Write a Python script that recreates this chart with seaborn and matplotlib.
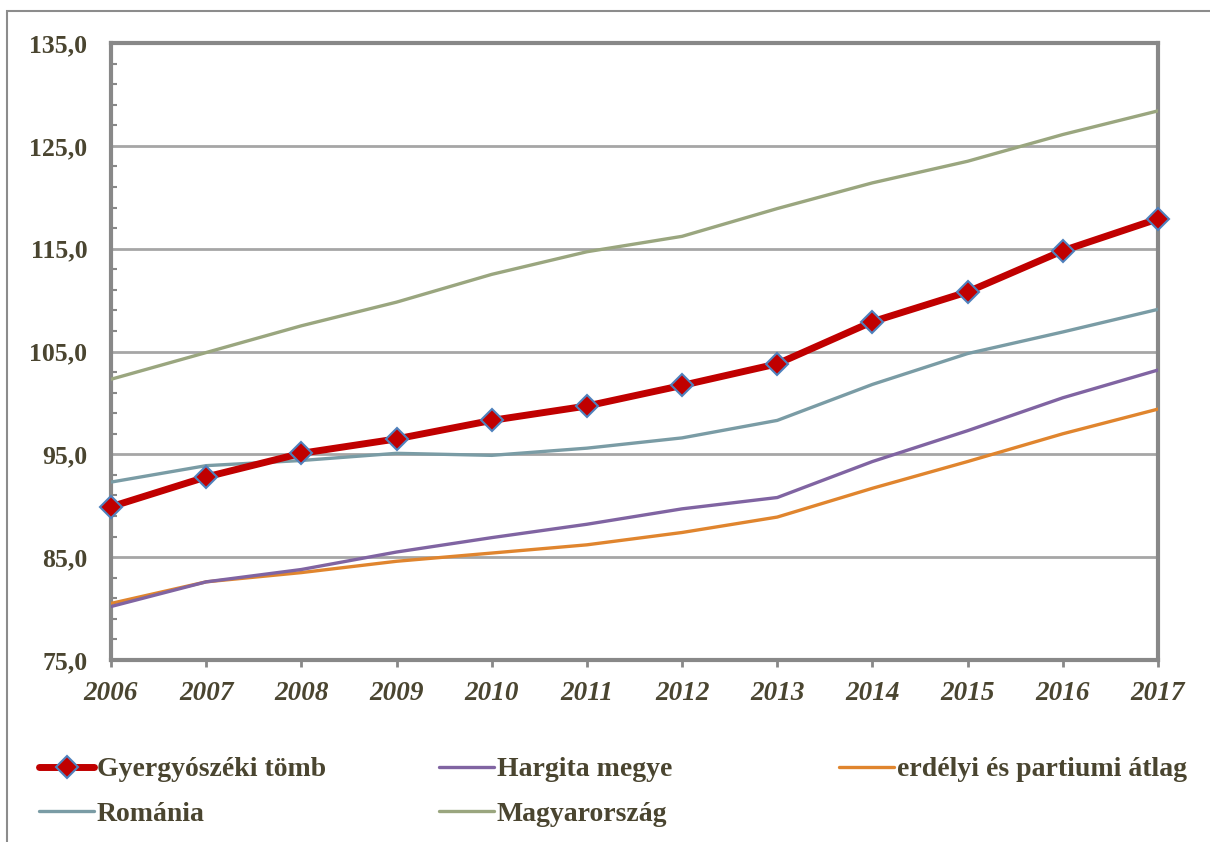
import numpy as np
import pandas as pd
import matplotlib
matplotlib.use("Agg")
import matplotlib.pyplot as plt
import seaborn as sns
from matplotlib.patches import Rectangle
from matplotlib.ticker import FixedLocator

# adatok (leolvasva az ábráról)
years = [2006, 2007, 2008, 2009, 2010, 2011, 2012, 2013, 2014, 2015, 2016, 2017]
gyergyo = [89.9, 92.8, 95.1, 96.5, 98.3, 99.7, 101.7, 103.8, 107.9, 110.8, 114.8, 117.9]
hargita = [80.2, 82.6, 83.8, 85.5, 86.9, 88.2, 89.7, 90.8, 94.3, 97.3, 100.5, 103.2]
erdely = [80.5, 82.6, 83.5, 84.6, 85.4, 86.2, 87.4, 88.9, 91.7, 94.3, 97.0, 99.4]
romania = [92.3, 93.9, 94.4, 95.1, 94.9, 95.6, 96.6, 98.3, 101.8, 104.8, 106.9, 109.1]
magyar = [102.3, 104.9, 107.5, 109.8, 112.5, 114.7, 116.2, 118.9, 121.4, 123.5, 126.1, 128.4]
y_ticks = [75, 85, 95, 105, 115, 125, 135]

names = ["Gyergyószéki tömb", "Hargita megye", "erdélyi és partiumi átlag", "Románia", "Magyarország"]
colors = ["#C00000", "#8064A2", "#E0852E", "#7A9CA5", "#9AA67F"]
series = [gyergyo, hargita, erdely, romania, magyar]

sns.set_style("white")
plt.rcParams['font.family'] = ['Liberation Serif', 'DejaVu Serif']
plt.rcParams['font.weight'] = 'bold'
txt = "#4A4530"
grey = "#888888"

fig = plt.figure(figsize=(12.1, 8.42), dpi=100)
ax = fig.add_axes([111/1210, 1 - 660/842, (1158-111)/1210, (660-43)/842])

handles = {}
# háttérvonalak előbb, a piros legfelül
for name, col, vals in list(zip(names, colors, series))[::-1]:
    if name == names[0]:
        sns.lineplot(x=years, y=vals, ax=ax, color=col, lw=5, marker='D', markersize=11,
                     markerfacecolor=col, markeredgecolor="#4F81BD", markeredgewidth=1.5,
                     clip_on=False, zorder=5)
    else:
        sns.lineplot(x=years, y=vals, ax=ax, color=col, lw=2.4, zorder=4)
    handles[name] = ax.lines[-1]

ax.set_xlim(2006, 2017)
ax.set_ylim(75, 135)
ax.set_xticks(years)
ax.set_xticklabels([str(y) for y in years], fontstyle='italic', fontweight='bold', fontsize=19.5, color=txt)
ax.set_yticks(y_ticks)
ax.yaxis.set_minor_locator(FixedLocator(np.arange(75, 135, 2)))
ax.set_yticklabels([f"{v:.1f}".replace('.', ',') for v in y_ticks],
                   fontweight='bold', fontsize=18.5, color=txt)
ax.grid(axis='y', which='major', color="#A6A6A6", lw=2)
ax.set_axisbelow(True)
for sp in ax.spines.values():
    sp.set_color(grey)
    sp.set_linewidth(3)
ax.tick_params(axis='both', which='major', direction='out', color=grey, width=2, length=5)
ax.tick_params(axis='y', which='major', pad=12)
ax.tick_params(axis='y', which='minor', direction='in', color=grey, width=1.5, length=4.5, left=True)
ax.tick_params(axis='x', pad=10, bottom=True)

# jelmagyarázat oszloponként
cols = [(40, [names[0], names[3]]), (440, [names[1], names[4]]), (840, [names[2]])]
for x0, labs in cols:
    leg = fig.legend([handles[n] for n in labs], labs, loc='upper left',
                     bbox_to_anchor=(x0/1210 - 0.001, 1 - 757/842), frameon=False,
                     prop={'family': 'Liberation Serif', 'weight': 'bold', 'size': 20},
                     handlelength=2.0, handletextpad=0.08, labelspacing=0.68,
                     borderaxespad=0, borderpad=0)
    for t in leg.get_texts():
        t.set_color(txt)

# külső keret
fig.patches.append(Rectangle((7/1210, -0.05), 1.2, 1 - 11/842 + 0.05, transform=fig.transFigure,
                             fill=False, edgecolor="#8C8C8C", lw=1.5))

fig.savefig("out.png", dpi=100)
